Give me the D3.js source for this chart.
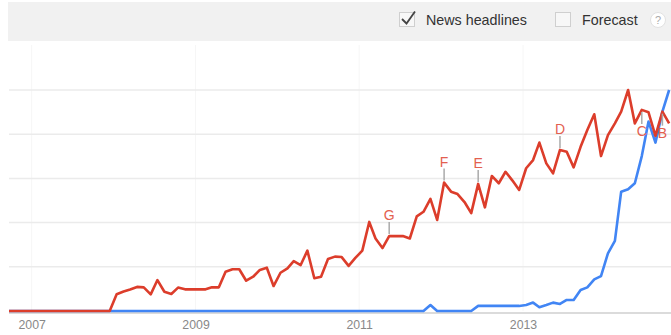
<!DOCTYPE html>
<html>
<head>
<meta charset="utf-8">
<script src="https://cdn.jsdelivr.net/npm/d3@7"></script>
<style>
  body { margin: 0; background: #fff; }
  svg { display: block; font-family: "Liberation Sans", Arial, sans-serif; }
</style>
</head>
<body>
<div id="chart"></div>
<script>
// monthly series, first value is Sep 2006
const startMonth = "2006-09";
const redValues = [
  0, 0, 0, 0, 0, 0, 0, 0, 0, 0, 0, 0, 0, 0, 0, 0,
  7.6, 8.8, 9.7, 10.9, 10.7, 7.5, 14.0, 8.7, 7.7, 10.6, 9.8, 9.8,
  9.8, 9.8, 10.7, 10.7, 17.8, 18.9, 18.9, 13.7, 15.5, 18.6, 19.6, 11.3,
  17.3, 19.3, 22.6, 20.8, 27.3, 14.8, 15.5, 23.5, 24.6, 24.4, 20.4, 24.0,
  27.3, 40.3, 32.8, 28.5, 33.9, 33.9, 33.9, 32.8, 42.8, 44.9, 50.7, 41.2,
  58.1, 54.0, 52.9, 49.3, 44.3, 57.5, 46.9, 61.1, 57.8, 63.0, 59.0, 54.8,
  64.6, 68.3, 76.2, 66.8, 62.3, 72.9, 72.1, 65.0, 74.3, 81.9, 89.0, 70.1,
  79.6, 84.9, 90.2, 100, 84.9, 91.0, 89.9, 79.2, 90.2, 84.9
];
const blueValues = [
  0, 0, 0, 0, 0, 0, 0, 0, 0, 0, 0, 0, 0, 0, 0, 0,
  0, 0, 0, 0, 0, 0, 0, 0, 0, 0, 0, 0, 0, 0, 0, 0,
  0, 0, 0, 0, 0, 0, 0, 0, 0, 0, 0, 0, 0, 0, 0, 0,
  0, 0, 0, 0, 0, 0, 0, 0, 0, 0, 0, 0, 0, 0,
  2.7, 0, 0, 0, 0, 0, 0,
  2.3, 2.3, 2.3, 2.3, 2.3, 2.3, 2.3,
  2.7, 3.8, 1.7, 2.7, 3.8, 3.2, 5.0, 5.0, 9.5, 10.7, 14.3, 15.8,
  26.1, 31.7, 54.0, 55.1, 57.8, 70.1, 85.7, 76.2, 90.2, 100
];
const yearTicks = ["2007", "2009", "2011", "2013"];
const gridValues = [20, 40, 60, 80, 100];
const notesAbove = [["G", "2011-05"], ["F", "2012-01"], ["E", "2012-06"], ["D", "2013-06"]];
const notesBelow = [["C", "2014-06"], ["B", "2014-09"]];

const W = 671, H = 335;
const red = "#dc3d2b", blue = "#4185f4";

const parseMonth = d3.utcParse("%Y-%m");
const t0 = parseMonth(startMonth);
const midMonth = m => d3.utcDay.offset(m, 14);
const toPoints = vals => vals.map((v, i) => ({ date: midMonth(d3.utcMonth.offset(t0, i)), v }));
const redData = toPoints(redValues);
const blueData = toPoints(blueValues);

const x = d3.scaleUtc()
  .domain([parseMonth("2007-01"), parseMonth("2013-01")])
  .range([31.7, 523]);
const y = d3.scaleLinear().domain([0, 100]).range([311, 90]);

const svg = d3.select("#chart").append("svg")
  .attr("width", W).attr("height", H);

// top bar
svg.append("rect").attr("x", 8).attr("y", 2).attr("width", W - 8).attr("height", 39)
  .attr("fill", "#f1f1f1");

const bar = svg.append("g");
bar.append("rect").attr("x", 399.5).attr("y", 12.5).attr("width", 15).attr("height", 14)
  .attr("fill", "#f7f7f7").attr("stroke", "#cfcfcf");
bar.append("path").attr("d", "M402,19 L406.5,23.5 L415,11.5")
  .attr("fill", "none").attr("stroke", "#444").attr("stroke-width", 1.8);
bar.append("text").attr("x", 426).attr("y", 24.5).attr("font-size", 14.3)
  .attr("fill", "#333").text("News headlines");
bar.append("rect").attr("x", 555.5).attr("y", 12.5).attr("width", 15).attr("height", 14)
  .attr("fill", "#f7f7f7").attr("stroke", "#cfcfcf");
bar.append("text").attr("x", 582).attr("y", 24.5).attr("font-size", 14.3)
  .attr("fill", "#333").text("Forecast");
bar.append("circle").attr("cx", 658).attr("cy", 20).attr("r", 7.5)
  .attr("fill", "#fff").attr("stroke", "#e2e2e2");
bar.append("text").attr("x", 658).attr("y", 24).attr("text-anchor", "middle")
  .attr("font-size", 11).attr("fill", "#aaa").text("?");

// grid
const yearDates = yearTicks.map(s => d3.utcParse("%Y")(s));
svg.append("g").selectAll("line").data(yearDates).join("line")
  .attr("x1", d => x(d)).attr("x2", d => x(d))
  .attr("y1", 45).attr("y2", 311)
  .attr("stroke", "#f6f6f6").attr("stroke-width", 1);
svg.append("g").selectAll("line").data(gridValues).join("line")
  .attr("x1", 9).attr("x2", W)
  .attr("y1", d => y(d)).attr("y2", d => y(d))
  .attr("stroke", "#ebebeb").attr("stroke-width", 1.5);

// axis
const axis = svg.append("g").attr("transform", "translate(0,313)")
  .call(d3.axisBottom(x).tickValues(yearDates).tickFormat(d3.utcFormat("%Y")).tickSize(0));
axis.select(".domain").remove();
axis.selectAll("text").attr("dy", "1.05em").attr("fill", "#888")
  .attr("font-size", 12.3).attr("font-family", "'Liberation Sans', Arial, sans-serif");
svg.append("line").attr("x1", 9).attr("x2", W).attr("y1", 313).attr("y2", 313)
  .attr("stroke", "#cfcfcf").attr("stroke-width", 1.5);

// lines
svg.append("clipPath").attr("id", "clip").append("rect")
  .attr("x", 9).attr("y", 0).attr("width", W - 9).attr("height", H);
const line = d3.line().x(d => x(d.date)).y(d => y(d.v));
const plot = svg.append("g").attr("clip-path", "url(#clip)");
plot.append("path").datum(blueData).attr("d", line)
  .attr("fill", "none").attr("stroke", blue).attr("stroke-width", 2.6)
  .attr("stroke-linejoin", "round");
plot.append("path").datum(redData).attr("d", line)
  .attr("fill", "none").attr("stroke", red).attr("stroke-width", 2.6)
  .attr("stroke-linejoin", "round");

// news markers
const valueAt = m => {
  const d = midMonth(parseMonth(m));
  return redData.find(p => +p.date === +d);
};
const notes = svg.append("g");
notesAbove.forEach(([k, m]) => {
  const p = valueAt(m);
  const px = x(p.date), py = y(p.v);
  notes.append("line").attr("x1", px).attr("x2", px).attr("y1", py - 2).attr("y2", py - 14)
    .attr("stroke", "#aaa").attr("stroke-width", 1.5);
  notes.append("text").attr("x", px).attr("y", py - 16).attr("text-anchor", "middle")
    .attr("font-size", 14).attr("fill", "#e3604f").text(k);
});
notesBelow.forEach(([k, m]) => {
  const p = valueAt(m);
  const px = x(p.date), py = y(p.v);
  notes.append("line").attr("x1", px).attr("x2", px).attr("y1", py + 2).attr("y2", py + 14)
    .attr("stroke", "#aaa").attr("stroke-width", 1.5);
  notes.append("text").attr("x", px).attr("y", py + 26).attr("text-anchor", "middle")
    .attr("font-size", 14).attr("fill", "#e3604f").text(k);
});
</script>
</body>
</html>
